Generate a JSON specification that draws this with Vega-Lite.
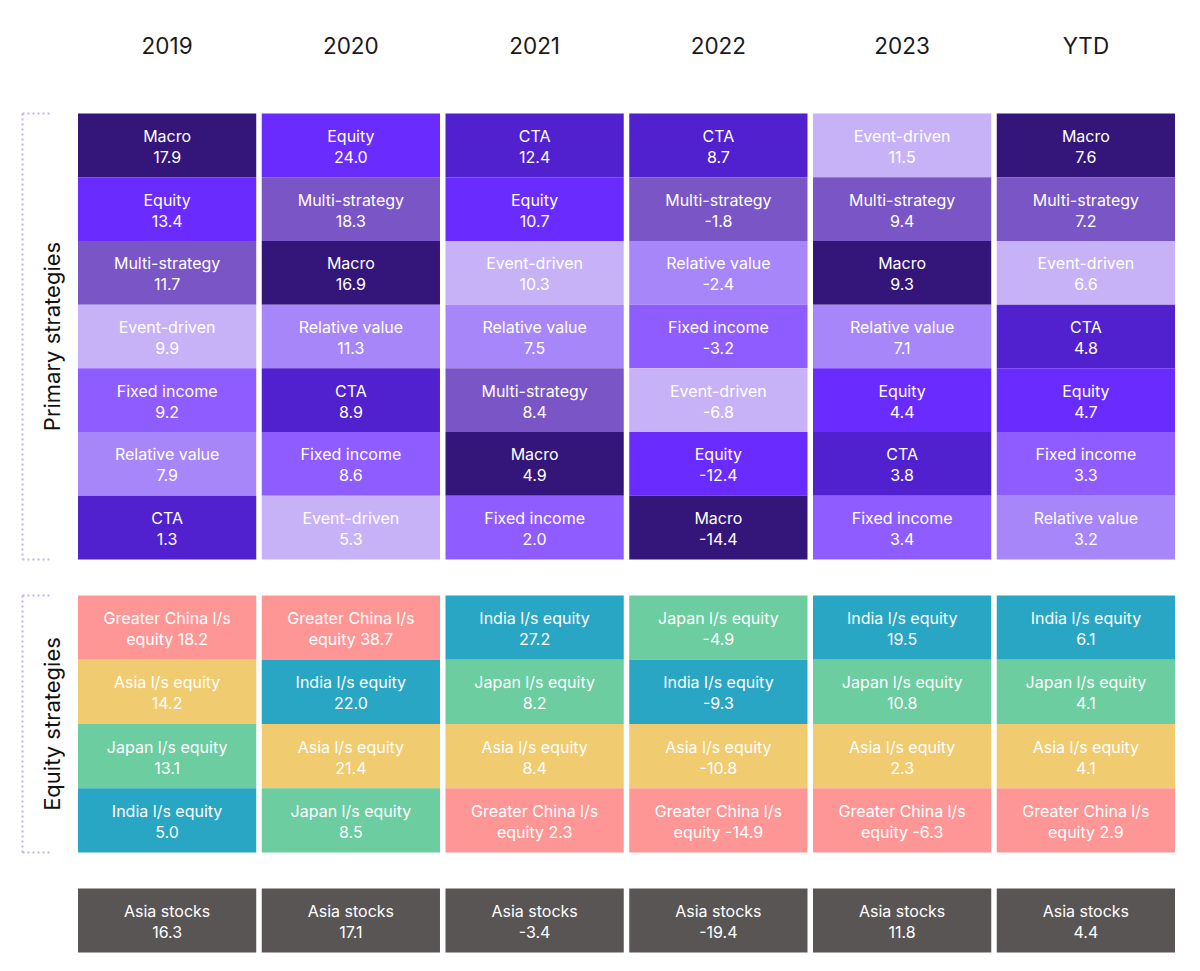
{
  "$schema": "https://vega.github.io/schema/vega-lite/v6.json",
  "padding": {"left": 21, "top": 35, "right": 5, "bottom": 5},
  "background": "#ffffff",
  "config": {"view": {"stroke": null}, "font": "Inter"},
  "datasets": {
    "primary": [
      {"year": "2019", "rank": 1, "strategy": "Macro", "value": 17.9},
      {"year": "2019", "rank": 2, "strategy": "Equity", "value": 13.4},
      {"year": "2019", "rank": 3, "strategy": "Multi-strategy", "value": 11.7},
      {"year": "2019", "rank": 4, "strategy": "Event-driven", "value": 9.9},
      {"year": "2019", "rank": 5, "strategy": "Fixed income", "value": 9.2},
      {"year": "2019", "rank": 6, "strategy": "Relative value", "value": 7.9},
      {"year": "2019", "rank": 7, "strategy": "CTA", "value": 1.3},
      {"year": "2020", "rank": 1, "strategy": "Equity", "value": 24.0},
      {"year": "2020", "rank": 2, "strategy": "Multi-strategy", "value": 18.3},
      {"year": "2020", "rank": 3, "strategy": "Macro", "value": 16.9},
      {"year": "2020", "rank": 4, "strategy": "Relative value", "value": 11.3},
      {"year": "2020", "rank": 5, "strategy": "CTA", "value": 8.9},
      {"year": "2020", "rank": 6, "strategy": "Fixed income", "value": 8.6},
      {"year": "2020", "rank": 7, "strategy": "Event-driven", "value": 5.3},
      {"year": "2021", "rank": 1, "strategy": "CTA", "value": 12.4},
      {"year": "2021", "rank": 2, "strategy": "Equity", "value": 10.7},
      {"year": "2021", "rank": 3, "strategy": "Event-driven", "value": 10.3},
      {"year": "2021", "rank": 4, "strategy": "Relative value", "value": 7.5},
      {"year": "2021", "rank": 5, "strategy": "Multi-strategy", "value": 8.4},
      {"year": "2021", "rank": 6, "strategy": "Macro", "value": 4.9},
      {"year": "2021", "rank": 7, "strategy": "Fixed income", "value": 2.0},
      {"year": "2022", "rank": 1, "strategy": "CTA", "value": 8.7},
      {"year": "2022", "rank": 2, "strategy": "Multi-strategy", "value": -1.8},
      {"year": "2022", "rank": 3, "strategy": "Relative value", "value": -2.4},
      {"year": "2022", "rank": 4, "strategy": "Fixed income", "value": -3.2},
      {"year": "2022", "rank": 5, "strategy": "Event-driven", "value": -6.8},
      {"year": "2022", "rank": 6, "strategy": "Equity", "value": -12.4},
      {"year": "2022", "rank": 7, "strategy": "Macro", "value": -14.4},
      {"year": "2023", "rank": 1, "strategy": "Event-driven", "value": 11.5},
      {"year": "2023", "rank": 2, "strategy": "Multi-strategy", "value": 9.4},
      {"year": "2023", "rank": 3, "strategy": "Macro", "value": 9.3},
      {"year": "2023", "rank": 4, "strategy": "Relative value", "value": 7.1},
      {"year": "2023", "rank": 5, "strategy": "Equity", "value": 4.4},
      {"year": "2023", "rank": 6, "strategy": "CTA", "value": 3.8},
      {"year": "2023", "rank": 7, "strategy": "Fixed income", "value": 3.4},
      {"year": "YTD", "rank": 1, "strategy": "Macro", "value": 7.6},
      {"year": "YTD", "rank": 2, "strategy": "Multi-strategy", "value": 7.2},
      {"year": "YTD", "rank": 3, "strategy": "Event-driven", "value": 6.6},
      {"year": "YTD", "rank": 4, "strategy": "CTA", "value": 4.8},
      {"year": "YTD", "rank": 5, "strategy": "Equity", "value": 4.7},
      {"year": "YTD", "rank": 6, "strategy": "Fixed income", "value": 3.3},
      {"year": "YTD", "rank": 7, "strategy": "Relative value", "value": 3.2}
    ],
    "equity": [
      {"year": "2019", "rank": 1, "strategy": "Greater China l/s equity", "value": 18.2},
      {"year": "2019", "rank": 2, "strategy": "Asia l/s equity", "value": 14.2},
      {"year": "2019", "rank": 3, "strategy": "Japan l/s equity", "value": 13.1},
      {"year": "2019", "rank": 4, "strategy": "India l/s equity", "value": 5.0},
      {"year": "2020", "rank": 1, "strategy": "Greater China l/s equity", "value": 38.7},
      {"year": "2020", "rank": 2, "strategy": "India l/s equity", "value": 22.0},
      {"year": "2020", "rank": 3, "strategy": "Asia l/s equity", "value": 21.4},
      {"year": "2020", "rank": 4, "strategy": "Japan l/s equity", "value": 8.5},
      {"year": "2021", "rank": 1, "strategy": "India l/s equity", "value": 27.2},
      {"year": "2021", "rank": 2, "strategy": "Japan l/s equity", "value": 8.2},
      {"year": "2021", "rank": 3, "strategy": "Asia l/s equity", "value": 8.4},
      {"year": "2021", "rank": 4, "strategy": "Greater China l/s equity", "value": 2.3},
      {"year": "2022", "rank": 1, "strategy": "Japan l/s equity", "value": -4.9},
      {"year": "2022", "rank": 2, "strategy": "India l/s equity", "value": -9.3},
      {"year": "2022", "rank": 3, "strategy": "Asia l/s equity", "value": -10.8},
      {"year": "2022", "rank": 4, "strategy": "Greater China l/s equity", "value": -14.9},
      {"year": "2023", "rank": 1, "strategy": "India l/s equity", "value": 19.5},
      {"year": "2023", "rank": 2, "strategy": "Japan l/s equity", "value": 10.8},
      {"year": "2023", "rank": 3, "strategy": "Asia l/s equity", "value": 2.3},
      {"year": "2023", "rank": 4, "strategy": "Greater China l/s equity", "value": -6.3},
      {"year": "YTD", "rank": 1, "strategy": "India l/s equity", "value": 6.1},
      {"year": "YTD", "rank": 2, "strategy": "Japan l/s equity", "value": 4.1},
      {"year": "YTD", "rank": 3, "strategy": "Asia l/s equity", "value": 4.1},
      {"year": "YTD", "rank": 4, "strategy": "Greater China l/s equity", "value": 2.9}
    ],
    "asia": [
      {"year": "2019", "rank": 1, "strategy": "Asia stocks", "value": 16.3},
      {"year": "2020", "rank": 1, "strategy": "Asia stocks", "value": 17.1},
      {"year": "2021", "rank": 1, "strategy": "Asia stocks", "value": -3.4},
      {"year": "2022", "rank": 1, "strategy": "Asia stocks", "value": -19.4},
      {"year": "2023", "rank": 1, "strategy": "Asia stocks", "value": 11.8},
      {"year": "YTD", "rank": 1, "strategy": "Asia stocks", "value": 4.4}
    ]
  },
  "vconcat": [
    {
      "width": 1097,
      "height": 446,
      "data": {"name": "primary"},
      "transform": [
        {"calculate": "datum.strategy + '\\n' + replace(format(datum.value, '.1f'), '\u2212', '-')", "as": "txt"}
      ],
      "encoding": {
        "x": {
          "field": "year", "type": "ordinal",
          "sort": ["2019", "2020", "2021", "2022", "2023", "YTD"],
          "scale": {"paddingInner": 0.03, "paddingOuter": 0},
          "axis": {"orient": "top", "title": null, "domain": false, "ticks": false, "labelAngle": 0, "labelFontSize": 22.5, "labelColor": "#1a1a1a", "labelPadding": 55, "labelFont": "Inter"}
        },
        "y": {
          "field": "rank", "type": "quantitative",
          "bin": {"step": 1, "extent": [1, 8]},
          "scale": {"domain": [1, 8], "reverse": true, "nice": false, "zero": false},
          "axis": {
            "title": "Primary strategies", "titleFontSize": 22, "titleFontWeight": "normal", "titleColor": "#111111", "titleFont": "Inter",
            "titleX": 30, "titleBaseline": "middle",
            "values": [1, 8], "labels": false, "grid": false,
            "offset": 56,
            "domainColor": "#c5b0f5", "domainWidth": 2, "domainDash": [2, 3],
            "tickColor": "#c5b0f5", "tickWidth": 2, "tickDash": [2, 3], "tickSize": -28
          }
        }
      },
      "layer": [
        {
          "mark": {"type": "rect"},
          "encoding": {
            "color": {
              "field": "strategy", "type": "nominal", "legend": null,
              "scale": {
                "domain": ["Macro", "Equity", "Multi-strategy", "Event-driven", "Fixed income", "Relative value", "CTA", "Greater China l/s equity", "Asia l/s equity", "Japan l/s equity", "India l/s equity", "Asia stocks"],
                "range": ["#34167a", "#6a2bff", "#7a55c6", "#c8b2f7", "#8f5cff", "#a686f9", "#5121cf", "#ff9696", "#f0cb6f", "#6bcda0", "#28a6c3", "#5a5555"]
              }
            }
          }
        },
        {
          "mark": {"type": "text", "lineBreak": "\n", "fontSize": 16, "lineHeight": 21, "dy": -8, "color": "#ffffff", "font": "Inter", "baseline": "middle", "align": "center"},
          "encoding": {"text": {"field": "txt", "type": "nominal"}}
        }
      ]
    },
    {
      "width": 1097,
      "height": 257,
      "data": {"name": "equity"},
      "transform": [
        {"calculate": "datum.strategy == 'Greater China l/s equity' ? 'Greater China l/s\\nequity ' + replace(format(datum.value, '.1f'), '\u2212', '-') : datum.strategy + '\\n' + replace(format(datum.value, '.1f'), '\u2212', '-')", "as": "txt"}
      ],
      "encoding": {
        "x": {
          "field": "year", "type": "ordinal",
          "sort": ["2019", "2020", "2021", "2022", "2023", "YTD"],
          "scale": {"paddingInner": 0.03, "paddingOuter": 0},
          "axis": null
        },
        "y": {
          "field": "rank", "type": "quantitative",
          "bin": {"step": 1, "extent": [1, 5]},
          "scale": {"domain": [1, 5], "reverse": true, "nice": false, "zero": false},
          "axis": {
            "title": "Equity strategies", "titleFontSize": 22, "titleFontWeight": "normal", "titleColor": "#111111", "titleFont": "Inter",
            "titleX": 30, "titleBaseline": "middle",
            "values": [1, 5], "labels": false, "grid": false,
            "offset": 56,
            "domainColor": "#c5b0f5", "domainWidth": 2, "domainDash": [2, 3],
            "tickColor": "#c5b0f5", "tickWidth": 2, "tickDash": [2, 3], "tickSize": -28
          }
        }
      },
      "layer": [
        {
          "mark": {"type": "rect"},
          "encoding": {
            "color": {
              "field": "strategy", "type": "nominal", "legend": null,
              "scale": {
                "domain": ["Macro", "Equity", "Multi-strategy", "Event-driven", "Fixed income", "Relative value", "CTA", "Greater China l/s equity", "Asia l/s equity", "Japan l/s equity", "India l/s equity", "Asia stocks"],
                "range": ["#34167a", "#6a2bff", "#7a55c6", "#c8b2f7", "#8f5cff", "#a686f9", "#5121cf", "#ff9696", "#f0cb6f", "#6bcda0", "#28a6c3", "#5a5555"]
              }
            }
          }
        },
        {
          "mark": {"type": "text", "lineBreak": "\n", "fontSize": 16, "lineHeight": 21, "dy": -8, "color": "#ffffff", "font": "Inter", "baseline": "middle", "align": "center"},
          "encoding": {"text": {"field": "txt", "type": "nominal"}}
        }
      ]
    },
    {
      "width": 1097,
      "height": 64,
      "data": {"name": "asia"},
      "transform": [
        {"calculate": "datum.strategy + '\\n' + replace(format(datum.value, '.1f'), '\u2212', '-')", "as": "txt"}
      ],
      "encoding": {
        "x": {
          "field": "year", "type": "ordinal",
          "sort": ["2019", "2020", "2021", "2022", "2023", "YTD"],
          "scale": {"paddingInner": 0.03, "paddingOuter": 0},
          "axis": null
        },
        "y": {
          "field": "rank", "type": "quantitative",
          "bin": {"step": 1, "extent": [1, 2]},
          "scale": {"domain": [1, 2], "reverse": true, "nice": false, "zero": false},
          "axis": null
        }
      },
      "layer": [
        {
          "mark": {"type": "rect"},
          "encoding": {
            "color": {
              "field": "strategy", "type": "nominal", "legend": null,
              "scale": {
                "domain": ["Macro", "Equity", "Multi-strategy", "Event-driven", "Fixed income", "Relative value", "CTA", "Greater China l/s equity", "Asia l/s equity", "Japan l/s equity", "India l/s equity", "Asia stocks"],
                "range": ["#34167a", "#6a2bff", "#7a55c6", "#c8b2f7", "#8f5cff", "#a686f9", "#5121cf", "#ff9696", "#f0cb6f", "#6bcda0", "#28a6c3", "#5a5555"]
              }
            }
          }
        },
        {
          "mark": {"type": "text", "lineBreak": "\n", "fontSize": 16, "lineHeight": 21, "dy": -8, "color": "#ffffff", "font": "Inter", "baseline": "middle", "align": "center"},
          "encoding": {"text": {"field": "txt", "type": "nominal"}}
        }
      ]
    }
  ],
  "spacing": 36,
  "bounds": "flush",
  "resolve": {"scale": {"y": "independent"}}
}
